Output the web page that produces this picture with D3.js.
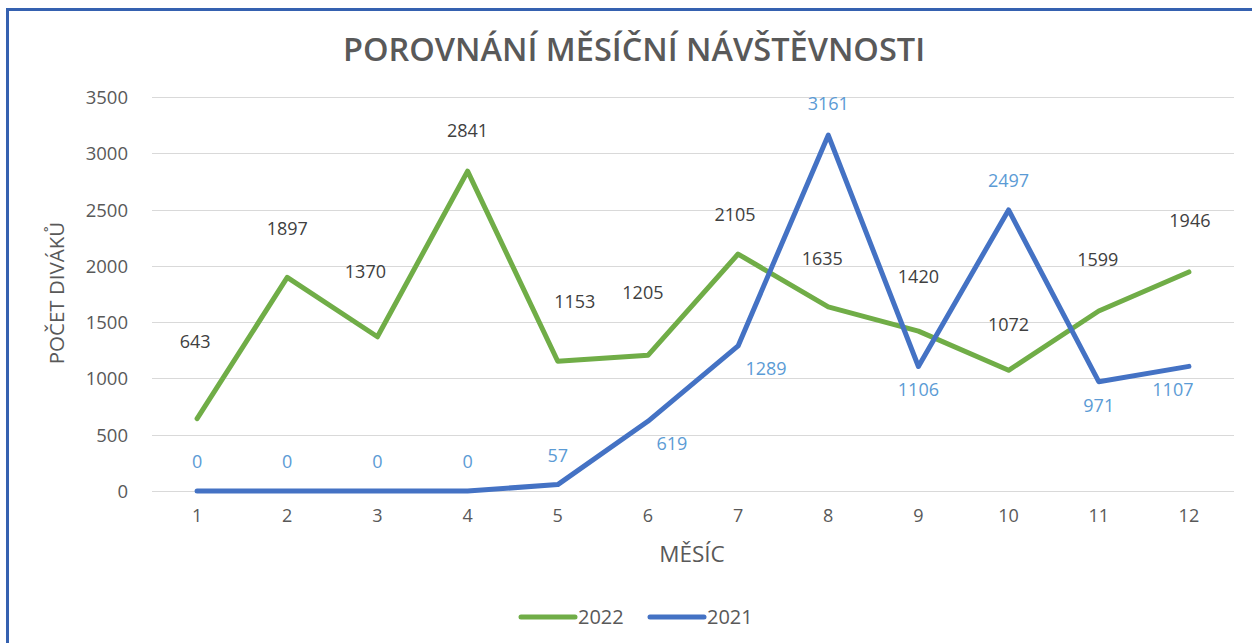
<!DOCTYPE html>
<html><head><meta charset="utf-8">
<script src="https://cdn.jsdelivr.net/npm/d3@7"></script>
<style>
html,body{margin:0;padding:0;background:#fff;}
svg{display:block;font-family:"Open Sans",sans-serif;}
</style></head>
<body>
<svg id="c" width="1252" height="643"></svg>
<script>
const months = [1,2,3,4,5,6,7,8,9,10,11,12];
const values2022 = [643,1897,1370,2841,1153,1205,2105,1635,1420,1072,1599,1946];
const values2021 = [0,0,0,0,57,619,1289,3161,1106,2497,971,1107];
const yTicks = [0,500,1000,1500,2000,2500,3000,3500];
const seriesNames = ["2022","2021"];
const title = "POROVNÁNÍ MĚSÍČNÍ NÁVŠTĚVNOSTI";
const xTitle = "MĚSÍC";
const yTitle = "POČET DIVÁKŮ";

// label placement (layout only, pixels)
const labelOff2022 = [[-2,-77],[0,-49],[-12,-65],[0,-40],[17,-60],[-5,-63],[-3,-39],[-6,-48],[0,-54],[0,-46],[-1,-51],[1,-51]];
const labelOff2021 = [[0,-29],[0,-29],[0,-29],[0,-29],[0,-29],[24,22],[28,23],[0,-31],[0,23],[0,-29],[0,24],[-16,23]];

const svg = d3.select("#c");
const m = {left:152, right:1234, top:97, bottom:491};

// border
svg.append("rect").attr("x",7.5).attr("y",9.5).attr("width",1260).attr("height",700)
  .attr("fill","#fff").attr("stroke","#3561b0").attr("stroke-width",3);

const x = d3.scaleBand().domain(months).range([m.left,m.right]);
const y = d3.scaleLinear().domain([0,3500]).range([m.bottom,m.top]);
const cx = d => x(d)+x.bandwidth()/2;

// gridlines
svg.append("g").selectAll("line").data(yTicks).join("line")
  .attr("x1",m.left).attr("x2",m.right)
  .attr("y1",d=>Math.round(y(d))+0.5).attr("y2",d=>Math.round(y(d))+0.5)
  .attr("stroke","#d9d9d9").attr("stroke-width",1);

// y axis labels
const yAxis = svg.append("g").attr("transform",`translate(${m.left-24},0)`)
  .call(d3.axisLeft(y).tickValues(yTicks).tickFormat(d3.format("d")).tickSize(0).tickPadding(0));
yAxis.select(".domain").remove();
yAxis.selectAll("text").attr("fill","#595959").style("font-size","18.5px").style("font-family","'Open Sans',sans-serif").attr("dy","0.35em");

// x axis labels
const xAxis = svg.append("g").attr("transform",`translate(0,${m.bottom})`)
  .call(d3.axisBottom(x).tickSize(0).tickPadding(18));
xAxis.select(".domain").remove();
xAxis.selectAll("text").attr("fill","#595959").style("font-size","18px").style("font-family","'Open Sans',sans-serif");

// title
svg.append("text").attr("x",634).attr("y",61).attr("text-anchor","middle")
  .attr("fill","#595959").style("font-size","32.5px").style("font-weight","600").text(title);

// axis titles
svg.append("text").attr("x",692).attr("y",562).attr("text-anchor","middle")
  .attr("fill","#595959").style("font-size","22.5px").text(xTitle);
svg.append("text").attr("transform","translate(64,293) rotate(-90)").attr("text-anchor","middle")
  .attr("fill","#595959").style("font-size","20.5px").text(yTitle);

const line = d3.line().x((d,i)=>cx(months[i])).y(d=>y(d));
const colors = ["#70ad47","#4472c4"];
svg.append("path").datum(values2022).attr("d",line).attr("fill","none")
  .attr("stroke",colors[0]).attr("stroke-width",5).attr("stroke-linejoin","round").attr("stroke-linecap","round");
svg.append("path").datum(values2021).attr("d",line).attr("fill","none")
  .attr("stroke",colors[1]).attr("stroke-width",5).attr("stroke-linejoin","round").attr("stroke-linecap","round");

// data labels
svg.append("g").selectAll("text").data(values2022).join("text")
  .attr("x",(d,i)=>cx(months[i])+labelOff2022[i][0])
  .attr("y",(d,i)=>y(d)+labelOff2022[i][1])
  .attr("text-anchor","middle").attr("dy","0.35em")
  .attr("fill","#404040").style("font-size","18px").text(d=>d);
svg.append("g").selectAll("text").data(values2021).join("text")
  .attr("x",(d,i)=>cx(months[i])+labelOff2021[i][0])
  .attr("y",(d,i)=>y(d)+labelOff2021[i][1])
  .attr("text-anchor","middle").attr("dy","0.35em")
  .attr("fill","#5b9bd5").style("font-size","18px").text(d=>d);

// legend
const lg = svg.append("g");
const legX = [521,650];
seriesNames.forEach((n,i)=>{
  lg.append("line").attr("x1",legX[i]).attr("x2",legX[i]+54).attr("y1",617).attr("y2",617)
    .attr("stroke",colors[i]).attr("stroke-width",5).attr("stroke-linecap","round");
  lg.append("text").attr("x",legX[i]+57).attr("y",617).attr("dy","0.35em")
    .attr("fill","#595959").style("font-size","20px").text(n);
});
</script>
</body></html>
